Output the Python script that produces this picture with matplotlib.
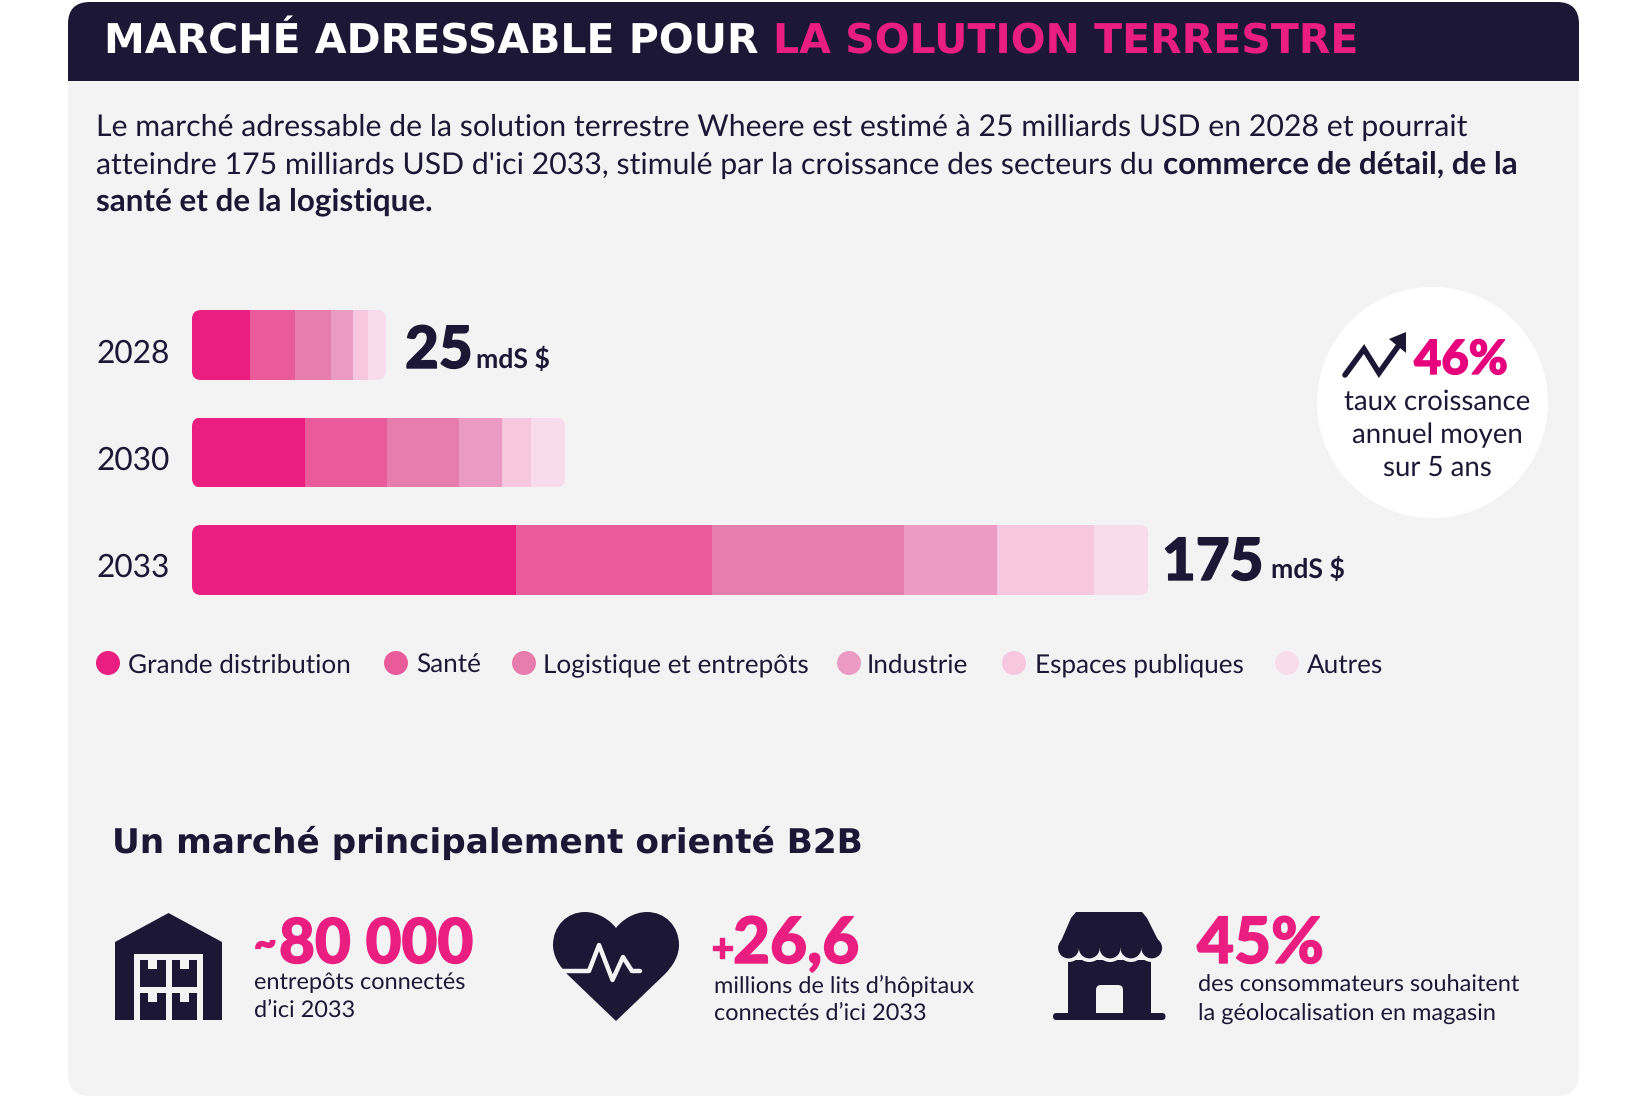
import matplotlib
matplotlib.use("Agg")
import matplotlib.pyplot as plt
import matplotlib.patheffects as pe
from matplotlib.patches import FancyBboxPatch, Circle, Polygon, PathPatch, Rectangle
from matplotlib.path import Path
from matplotlib.transforms import IdentityTransform

# DATA

years = ["2028", "2030", "2033"]
segments = ["Grande distribution", "Santé", "Logistique et entrepôts", "Industrie", "Espaces publiques", "Autres"]
# drawn lengths of the segments (2033 scaled to 175)
grande_distribution = [10.7, 20.7, 59.3]
sante = [8.1, 15.0, 35.9]
logistique = [6.7, 13.2, 35.1]
industrie = [4.0, 7.9, 17.1]
espaces_publics = [2.7, 5.2, 17.7]
autres = [3.3, 6.3, 10.0]
series = [grande_distribution, sante, logistique, industrie, espaces_publics, autres]

DARK = "#1d1736"
PINK = "#e91e80"
PANEL = "#f3f3f3"
colors = ["#e91e80", "#e95b9a", "#e77dad", "#eb9bc3", "#f7c6df", "#f9dcec"]

W, H = 1643, 1096
plt.rcParams["font.family"] = ["Lato", "DejaVu Sans"]
plt.rcParams["text.hinting"] = "no_hinting"
fig = plt.figure(figsize=(W / 100, H / 100), dpi=100, facecolor="white")

# canvas in pixel coordinates, used for everything around the bars
ax = fig.add_axes([0, 0, 1, 1])
ax.set_xlim(0, W)
ax.set_ylim(H, 0)
ax.axis("off")


def heavy(width=1.0, col=DARK):
    # Lato Black look: thicken the bold digits a little
    return [pe.withStroke(linewidth=width, foreground=col)]


# Panel and header

ax.add_patch(FancyBboxPatch((68, 2), 1511, 1094, boxstyle="round,pad=0,rounding_size=22", fc=PANEL, ec="none"))
header = FancyBboxPatch((68, 2), 1511, 130, boxstyle="round,pad=0,rounding_size=22", fc=DARK, ec="none")
ax.add_patch(header)
header.set_clip_path(Rectangle((0, 0), W, 81, transform=ax.transData))

ax.text(104, 53, "MARCHÉ ADRESSABLE POUR", color="white", fontsize=29.5, family="DejaVu Sans", weight="bold", va="baseline")
ax.text(773, 53, "LA SOLUTION TERRESTRE", color=PINK, fontsize=29.5, family="DejaVu Sans", weight="bold", va="baseline")

# Intro text

BODY = 21.8
BODY_BOLD = 22.6
ax.text(96, 136, "Le marché adressable de la solution terrestre Wheere est estimé à 25 milliards USD en 2028 et pourrait",
        color=DARK, fontsize=BODY, va="baseline")
ax.text(96, 174, "atteindre 175 milliards USD d'ici 2033, stimulé par la croissance des secteurs du",
        color=DARK, fontsize=BODY, va="baseline")
ax.text(1163, 174, "commerce de détail, de la", color=DARK, fontsize=BODY_BOLD, weight="bold", va="baseline")
ax.text(96, 210, "santé et de la logistique.", color=DARK, fontsize=BODY_BOLD, weight="bold", va="baseline")

# Bars

BAR_L, BAR_R, BAR_T, BAR_B = 192, 1148, 310, 595
bars_ax = fig.add_axes([BAR_L / W, 1 - BAR_B / H, (BAR_R - BAR_L) / W, (BAR_B - BAR_T) / H])
bars_ax.patch.set_alpha(0)
bars_ax.axis("off")
row_pos = list(range(len(years)))
left = [0.0] * len(years)
containers = []
for vals, col in zip(series, colors):
    containers.append(bars_ax.barh(row_pos, vals, left=left, height=0.651, color=col, linewidth=0))
    left = [a + b for a, b in zip(left, vals)]
bars_ax.set_xlim(0, 175)
bars_ax.set_ylim(2 + 0.3256, -0.3256)

fig.canvas.draw()
for i in row_pos:
    first = containers[0][i].get_window_extent()
    last = containers[-1][i].get_window_extent()
    clip = FancyBboxPatch((first.x0, first.y0), last.x1 - first.x0, first.height,
                          boxstyle="round,pad=0,rounding_size=9", transform=IdentityTransform())
    for c in containers:
        c[i].set_clip_path(clip)

for y, lab in zip([363, 470, 577], years):
    ax.text(97, y, lab, color=DARK, fontsize=22.8, va="baseline")

ax.text(405, 368, "25", color=DARK, fontsize=42, weight="black", va="baseline", path_effects=heavy())
ax.text(476, 368, "mdS $", color=DARK, fontsize=19.2, weight="bold", va="baseline")
ax.text(1162, 580, "175", color=DARK, fontsize=42, weight="black", va="baseline", path_effects=heavy())
ax.text(1271, 578, "mdS $", color=DARK, fontsize=19.2, weight="bold", va="baseline")

# Legend

legend_dot_x = [108, 396, 524, 849, 1014, 1287]
legend_txt_x = [128, 416, 543, 867, 1035, 1307]
for dx, tx, lab, col in zip(legend_dot_x, legend_txt_x, segments, colors):
    ax.add_patch(Circle((dx, 663), 12, fc=col, ec="none"))
    ax.text(tx, 673, lab, color=DARK, fontsize=18.8, va="baseline")

# Growth bubble

ax.add_patch(Circle((1432.5, 402.5), 115.5, fc="white", ec="none"))
ax.plot([1345, 1364, 1379, 1399], [375, 349, 373, 345], color=DARK, lw=4, solid_capstyle="round", solid_joinstyle="miter")
ax.add_patch(Polygon([[1406, 332], [1389, 339], [1406, 353]], fc=DARK, ec="none"))
ax.text(1414, 374, "46%", color="#e6007e", fontsize=34, weight="black", va="baseline", path_effects=heavy(1.0, "#e6007e"))
for y, line in zip([410, 443, 476], ["taux croissance", "annuel moyen", "sur 5 ans"]):
    ax.text(1437, y, line, color=DARK, fontsize=19.9, ha="center", va="baseline")

# Bottom block

ax.text(112, 853, "Un marché principalement orienté B2B", color=DARK, fontsize=24.7, family="DejaVu Sans", weight="bold", va="baseline")

# warehouse icon
ax.add_patch(Polygon([[168.5, 913], [222, 942], [222, 1020], [115, 1020], [115, 942]], fc=DARK, ec="none", joinstyle="round"))
ax.add_patch(Rectangle((134, 954), 69, 66, fc=PANEL, ec="none"))
for bx in [140, 171.5]:
    for by in [960, 993]:
        ax.add_patch(Rectangle((bx, by), 25.5, 27, fc=DARK, ec="none"))
        ax.add_patch(Rectangle((bx + 8, by), 9, 9, fc=PANEL, ec="none"))

# heart icon
heart = Path([(616, 1021), (568, 975), (558, 965), (553, 955), (553, 945), (553, 926), (567, 912), (585, 912),
              (598, 912), (610, 920), (616, 928), (622, 920), (634, 912), (647, 912),
              (665, 912), (679, 926), (679, 945), (679, 955), (674, 965), (664, 975), (616, 1021)],
             [Path.MOVETO, Path.LINETO] + [Path.CURVE4] * 18 + [Path.LINETO])
ax.add_patch(PathPatch(heart, fc=DARK, ec="none"))
ax.plot([555, 589, 599, 612.5, 623, 632, 640], [971, 971, 945, 980, 957, 971, 971], color=PANEL, lw=3.2,
        solid_capstyle="round", solid_joinstyle="round")

# shop icon
ax.add_patch(Rectangle((1068, 960), 83, 53, fc=DARK, ec="none"))
for k in range(5):
    ax.add_patch(Circle((1068.5 + k * 20.8, 948), 14, fc=PANEL, ec="none"))
ax.add_patch(Polygon([[1076, 912], [1142, 912], [1147, 918], [1162, 948], [1058, 948], [1071, 918]], fc=DARK, ec="none"))
for k in range(5):
    ax.add_patch(Circle((1068.5 + k * 20.8, 948), 10.4, fc=DARK, ec="none"))
ax.add_patch(FancyBboxPatch((1096, 985), 27, 40, boxstyle="round,pad=0,rounding_size=5", fc=PANEL, ec="none",
                            clip_path=Rectangle((1090, 980), 40, 33, transform=ax.transData)))
ax.add_patch(FancyBboxPatch((1053, 1013), 112.5, 7, boxstyle="round,pad=0,rounding_size=3.5", fc=DARK, ec="none"))

STAT = 46
LABEL = 16.9
pink_fx = heavy(1.0, PINK)
ax.text(254, 956, "~", color=PINK, fontsize=28, weight="black", va="baseline", path_effects=pink_fx)
ax.text(279, 963, "80 000", color=PINK, fontsize=44.6, weight="black", va="baseline", path_effects=pink_fx)
ax.text(254, 989, "entrepôts connectés", color=DARK, fontsize=LABEL, va="baseline")
ax.text(254, 1017, "d’ici 2033", color=DARK, fontsize=LABEL, va="baseline")

ax.text(711, 961, "+", color=PINK, fontsize=28, weight="black", va="baseline", path_effects=pink_fx)
ax.text(733, 963, "26,6", color=PINK, fontsize=STAT, weight="black", va="baseline", path_effects=pink_fx)
ax.text(714, 992, "millions de lits d’hôpitaux", color=DARK, fontsize=LABEL, va="baseline")
ax.text(714, 1020, "connectés d’ici 2033", color=DARK, fontsize=LABEL, va="baseline")

ax.text(1197, 963, "45%", color=PINK, fontsize=STAT, weight="black", va="baseline", path_effects=pink_fx)
ax.text(1198, 992, "des consommateurs souhaitent", color=DARK, fontsize=LABEL, va="baseline")
ax.text(1198, 1021, "la géolocalisation en magasin", color=DARK, fontsize=LABEL, va="baseline")

fig.savefig("out.png", dpi=100)
